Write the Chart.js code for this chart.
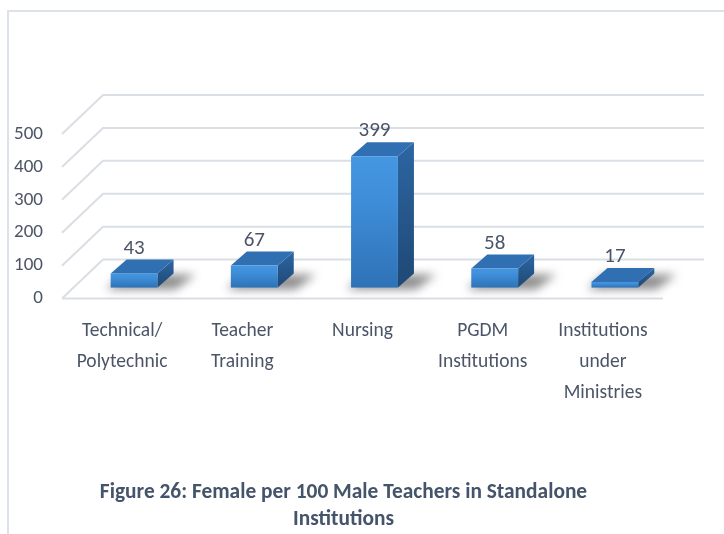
<!DOCTYPE html>
<html><head><meta charset="utf-8">
<script src="https://cdn.jsdelivr.net/npm/chart.js@4/dist/chart.umd.min.js"></script>
<style>html,body{margin:0;padding:0;background:#fff;}canvas{display:block;}</style>
</head><body>
<canvas id="c" width="724" height="534"></canvas>
<script>
// ---- data ----
const categories = [['Technical/','Polytechnic'],['Teacher','Training'],'Nursing',['PGDM','Institutions'],['Institutions','under','Ministries']];
const values = [43, 67, 399, 58, 17];
const yTicks = [0, 100, 200, 300, 400, 500];
const caption = ['Figure 26: Female per 100 Male Teachers in Standalone', 'Institutions'];

// ---- style ----
const FONT = "Carlito, 'Liberation Sans', sans-serif";
const TEXT = '#4b5567';
const DEPTH = {dx: 41, dy: -39};
const BAR_OFF = {dx: 12, dy: -11};
const BAR_DEPTH = {dx: 16, dy: -14};

const frame = {
  id: 'frame',
  afterLayout(chart) {
    // nudge the caption a little right, as in the source figure
    if (chart.titleBlock) { chart.titleBlock.left += 8; chart.titleBlock.right += 8; }
  },
  beforeDraw(chart) {
    const c = chart.ctx;
    c.save();
    c.fillStyle = '#fff';
    c.fillRect(0, 0, chart.width, chart.height);
    c.strokeStyle = '#dde1e8';
    c.lineWidth = 2;
    c.beginPath();
    c.moveTo(8, chart.height); c.lineTo(8, 11); c.lineTo(chart.width, 11);
    c.stroke();
    c.restore();
  }
};

const grid3d = {
  id: 'grid3d',
  beforeDatasetsDraw(chart) {
    const {ctx, chartArea: a, scales: {y}} = chart;
    ctx.save();
    ctx.strokeStyle = '#dadee5';
    ctx.lineWidth = 2;
    yTicks.forEach(v => {
      const py = y.getPixelForValue(v);
      ctx.beginPath();
      ctx.moveTo(a.left, py);
      ctx.lineTo(a.left + DEPTH.dx, py + DEPTH.dy);
      ctx.lineTo(a.right + DEPTH.dx, py + DEPTH.dy);
      ctx.stroke();
    });
    const p0 = y.getPixelForValue(0);
    ctx.beginPath(); ctx.moveTo(a.left, p0); ctx.lineTo(a.right, p0); ctx.stroke();
    ctx.restore();
  }
};

const bars3d = {
  id: 'bars3d',
  afterDatasetsDraw(chart) {
    const ctx = chart.ctx;
    const meta = chart.getDatasetMeta(0);
    meta.data.forEach((el, i) => {
      const p = el.getProps(['x', 'y', 'base', 'width'], true);
      const w = p.width;
      const x0 = p.x - w / 2 + BAR_OFF.dx, x1 = x0 + w;
      const yt = p.y + BAR_OFF.dy, yb = p.base + BAR_OFF.dy;
      const dx = BAR_DEPTH.dx, dy = BAR_DEPTH.dy;
      ctx.save();
      // floor shadow
      ctx.filter = 'blur(5px)';
      ctx.fillStyle = 'rgba(50,50,50,0.55)';
      ctx.beginPath();
      ctx.moveTo(x0 - 4, yb + 2);
      ctx.lineTo(x1 + 18, yb + 2);
      ctx.lineTo(x1 + dx + 22, yb + dy + 1);
      ctx.lineTo(x0 + dx - 4, yb + dy + 1);
      ctx.closePath();
      ctx.fill();
      ctx.filter = 'none';
      // side face
      const gs = ctx.createLinearGradient(0, yt + dy, 0, yb);
      gs.addColorStop(0, '#2d66a3');
      gs.addColorStop(1, '#1f4874');
      ctx.fillStyle = gs;
      ctx.beginPath();
      ctx.moveTo(x1, yt); ctx.lineTo(x1 + dx, yt + dy); ctx.lineTo(x1 + dx, yb + dy); ctx.lineTo(x1, yb);
      ctx.closePath(); ctx.fill();
      // top face
      ctx.fillStyle = '#3070b2';
      ctx.beginPath();
      ctx.moveTo(x0, yt); ctx.lineTo(x0 + dx, yt + dy); ctx.lineTo(x1 + dx, yt + dy); ctx.lineTo(x1, yt);
      ctx.closePath(); ctx.fill();
      // front face
      const gf = ctx.createLinearGradient(0, yt, 0, yb);
      gf.addColorStop(0, '#4597e2');
      gf.addColorStop(0.35, '#3e8dd8');
      gf.addColorStop(1, '#2e72b6');
      ctx.fillStyle = gf;
      ctx.fillRect(x0, yt, w, yb - yt);
      // value label
      ctx.fillStyle = TEXT;
      ctx.font = "21px " + FONT;
      ctx.textAlign = 'center';
      ctx.textBaseline = 'middle';
      ctx.fillText(String(values[i]), x0 + w / 2, yt - 25);
      ctx.restore();
    });
  }
};

new Chart(document.getElementById('c'), {
  type: 'bar',
  data: {
    labels: categories,
    datasets: [{
      data: values,
      backgroundColor: 'rgba(0,0,0,0)',
      borderWidth: 0,
      barPercentage: 0.39,
      categoryPercentage: 1
    }]
  },
  options: {
    responsive: false,
    animation: false,
    events: [],
    layout: {padding: {left: 8, right: 61, top: 134, bottom: 1}},
    plugins: {
      legend: {display: false},
      tooltip: {enabled: false},
      title: {
        display: true, position: 'bottom', text: caption, color: '#44546a',
        font: {family: FONT, size: 21.4, weight: 'bold', lineHeight: 1.26},
        padding: {top: 0, bottom: 0}
      }
    },
    scales: {
      x: {
        grid: {display: false, drawTicks: false},
        border: {display: false},
        ticks: {color: TEXT, font: {family: FONT, size: 19.5, lineHeight: 1.59}, padding: 17.5, maxRotation: 0, autoSkip: false},
        afterFit(s) { s.height = 180.5; }
      },
      y: {
        min: 0, max: 500,
        grid: {display: false, drawTicks: false},
        border: {display: false},
        ticks: {stepSize: 100, color: TEXT, font: {family: FONT, size: 19}, padding: 19},
        afterFit(s) { s.width = 54; }
      }
    }
  },
  plugins: [frame, grid3d, bars3d]
});
</script>
</body></html>
